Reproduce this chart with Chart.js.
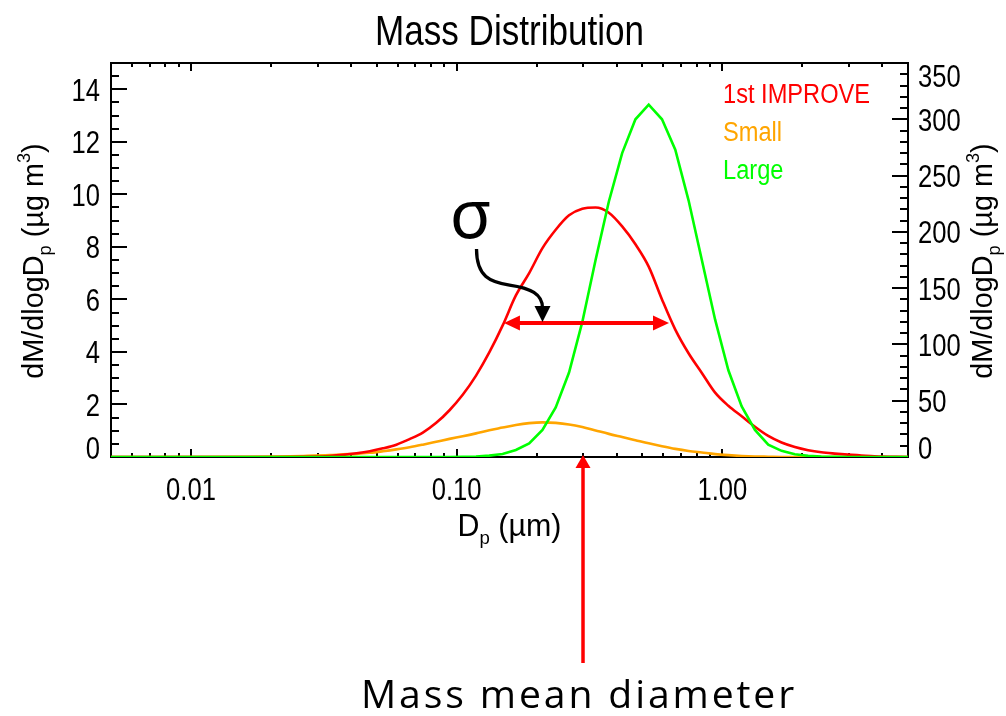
<!DOCTYPE html>
<html>
<head>
<meta charset="utf-8">
<title>Mass Distribution</title>
<script src="https://cdn.jsdelivr.net/npm/chart.js@4.4.1/dist/chart.umd.min.js"></script>
<style>
  html, body { margin: 0; padding: 0; background: #fff; }
  #wrap { width: 1006px; height: 716px; }
</style>
</head>
<body>
<div id="wrap"><canvas id="massChart" width="1006" height="716"></canvas></div>
<script>
// ─── Data ─────────────────────────────────────────────────────────────────────

// particle diameter Dp (µm), log-spaced
const diameters = [
  0.005, 0.0167, 0.021, 0.0265, 0.0333, 0.0374, 0.042, 0.0471, 0.0528, 0.0593,
  0.0665, 0.0746, 0.0838, 0.094, 0.1054, 0.1183, 0.1327, 0.1489, 0.1671, 0.1875,
  0.2104, 0.236, 0.2649, 0.2972, 0.3334, 0.3741, 0.4198, 0.471, 0.5284, 0.5929,
  0.6653, 0.7464, 0.8375, 0.9397, 1.054, 1.183, 1.327, 1.489, 1.671, 1.875,
  2.104, 2.36, 2.649, 2.972, 3.334, 3.741, 5.0,
];

// dM/dlogDp, left axis
const improveValues = [
  0, 0, 0, 0.01, 0.04, 0.08, 0.14, 0.22, 0.33, 0.47,
  0.68, 0.93, 1.3, 1.78, 2.37, 3.1, 3.98, 5.0, 6.15, 7.0,
  7.95, 8.65, 9.2, 9.45, 9.5, 9.3, 8.78, 8.1, 7.25, 6.0,
  4.85, 3.95, 3.2, 2.45, 1.95, 1.55, 1.15, 0.8, 0.55, 0.38,
  0.26, 0.18, 0.13, 0.09, 0.06, 0.03, 0,
];

// dM/dlogDp, left axis
const smallValues = [
  0, 0.01, 0.02, 0.04, 0.07, 0.1, 0.12, 0.16, 0.22, 0.29,
  0.37, 0.47, 0.58, 0.69, 0.79, 0.9, 1.02, 1.12, 1.22, 1.29,
  1.32, 1.3, 1.24, 1.14, 1.01, 0.88, 0.76, 0.64, 0.52, 0.41,
  0.31, 0.23, 0.17, 0.11, 0.07, 0.04, 0.02, 0.01, 0, 0,
  0, 0, 0, 0, 0, 0, 0,
];

// dM/dlogDp, right axis
const largeValues = [
  0, 0, 0, 0, 0, 0, 0, 0, 0, 0,
  0, 0, 0, 0, 0.2, 0.5, 1.2, 2.7, 6.2, 12,
  24, 44, 75, 120, 175, 227, 270, 300, 313, 300,
  273, 228, 175, 122, 77, 45, 24, 11, 5.5, 2.5,
  1, 0.4, 0.1, 0, 0, 0, 0,
];

const seriesNames  = ['1st IMPROVE', 'Small', 'Large'];
const seriesColors = ['#ff0000', '#ffa500', '#00ff00'];

const xMajorTicks = [0.01, 0.1, 1];
const xTickLabels = ['0.01', '0.10', '1.00'];
const leftTickLabels  = [0, 2, 4, 6, 8, 10, 12, 14];
const rightTickLabels = [0, 50, 100, 150, 200, 250, 300, 350];

// annotation anchors, in data units
const sigmaSpan    = { from: 0.1507, to: 0.630, y: 5.1 };
const sigmaLabel   = { x: 0.113, y: 8.34 };
const meanDiameter = 0.299;

// ─── Helpers ─────────────────────────────────────────────────────────────────

const FONT = "'Liberation Sans', Arial, sans-serif";

const xTickValues = [];
[0.001, 0.01, 0.1, 1].forEach(dec => {
  for (let m = 1; m <= 9; m++) {
    const v = +(dec * m).toPrecision(3);
    if (v >= 0.005 && v <= 5) xTickValues.push(v);
  }
});

const stepTicks = (max, step) => {
  const out = [];
  for (let v = 0; v <= max + 1e-9; v += step) out.push(+v.toFixed(3));
  return out;
};

// IDL's Helvetica is narrower than Liberation Sans, so squeeze horizontally
function drawText(ctx, text, x, y, { size, sx = 1, align = 'left', color = '#000', family = FONT, spacing = 0 }) {
  ctx.save();
  ctx.font = `${size}px ${family}`;
  ctx.fillStyle = color;
  ctx.textAlign = align;
  ctx.textBaseline = 'alphabetic';
  if (spacing) ctx.letterSpacing = `${spacing}px`;
  ctx.translate(x, y);
  ctx.scale(sx, 1);
  ctx.fillText(text, 0, 0);
  ctx.restore();
}

function drawRich(ctx, parts, x, y, size, sx, rotate) {
  ctx.save();
  ctx.translate(x, y);
  if (rotate) ctx.rotate(-Math.PI / 2);
  ctx.scale(sx, 1);
  const fontFor = p => `${(p.sub || p.sup) ? Math.round(size * 0.62) : size}px ${FONT}`;
  let total = 0;
  parts.forEach(p => { ctx.font = fontFor(p); total += ctx.measureText(p.t).width; });
  let cx = -total / 2;
  ctx.textAlign = 'left';
  ctx.textBaseline = 'alphabetic';
  ctx.fillStyle = '#000';
  parts.forEach(p => {
    ctx.font = fontFor(p);
    const dy = p.sub ? size * 0.27 : p.sup ? -size * 0.42 : 0;
    ctx.fillText(p.t, cx, dy);
    cx += ctx.measureText(p.t).width;
  });
  ctx.restore();
}

function arrowHead(ctx, tipX, tipY, dirX, dirY, len, half) {
  const bx = tipX - dirX * len, by = tipY - dirY * len;
  ctx.beginPath();
  ctx.moveTo(tipX, tipY);
  ctx.lineTo(bx - dirY * half, by + dirX * half);
  ctx.lineTo(bx + dirY * half, by - dirX * half);
  ctx.closePath();
  ctx.fill();
}

const yTitleParts = [
  { t: 'dM/dlogD' }, { t: 'p', sub: true }, { t: ' (\u00b5g m' }, { t: '3', sup: true }, { t: ')' },
];
const xTitleParts = [{ t: 'D' }, { t: 'p', sub: true }, { t: ' (\u00b5m)' }];

// ─── Plugin: IDL-style box, inward ticks, labels, annotations ───────────────

const idlFrame = {
  id: 'idlFrame',
  beforeDatasetsDraw(chart) {
    const { ctx, chartArea: a, scales: { x, y, y1 } } = chart;
    ctx.save();
    ctx.strokeStyle = '#000';
    ctx.lineWidth = 2;
    ctx.strokeRect(a.left, a.top, a.right - a.left, a.bottom - a.top);
    ctx.beginPath();
    x.ticks.forEach(t => {
      const px = Math.round(x.getPixelForValue(t.value));
      const len = xMajorTicks.includes(t.value) ? 8 : 4;
      ctx.moveTo(px, a.bottom); ctx.lineTo(px, a.bottom - len);
      ctx.moveTo(px, a.top);    ctx.lineTo(px, a.top + len);
    });
    y.ticks.forEach(t => {
      const py = Math.round(y.getPixelForValue(t.value));
      const len = t.value % 2 === 0 ? 16 : 8;
      ctx.moveTo(a.left, py); ctx.lineTo(a.left + len, py);
    });
    y1.ticks.forEach(t => {
      const py = Math.round(y1.getPixelForValue(t.value));
      const len = t.value % 50 === 0 ? 16 : 8;
      ctx.moveTo(a.right, py); ctx.lineTo(a.right - len, py);
    });
    ctx.stroke();
    ctx.restore();

    // tick labels; end labels are pulled inside the box like IDL does
    xMajorTicks.forEach((v, i) => {
      drawText(ctx, xTickLabels[i], x.getPixelForValue(v), a.bottom + 43, { size: 32, sx: 0.8, align: 'center' });
    });
    leftTickLabels.forEach(v => {
      let py = y.getPixelForValue(v) + 11.5;
      if (v === 0) py -= 10;
      drawText(ctx, String(v), a.left - 11, py, { size: 32, sx: 0.8, align: 'right' });
    });
    rightTickLabels.forEach(v => {
      let py = y1.getPixelForValue(v) + 11.5;
      if (v === 0) py -= 10;
      if (v === y1.max) py += 12;
      drawText(ctx, String(v), a.right + 10, py, { size: 32, sx: 0.8, align: 'left' });
    });
  },
  afterDraw(chart) {
    const { ctx, chartArea: a, scales: { x, y } } = chart;
    const midX = (a.left + a.right) / 2, midY = (a.top + a.bottom) / 2;

    drawText(ctx, 'Mass Distribution', midX, 45, { size: 42, sx: 0.835, align: 'center' });
    drawRich(ctx, yTitleParts, 43, midY + 1, 30, 0.96, true);
    drawRich(ctx, yTitleParts, 992, midY + 1, 30, 0.96, true);
    drawRich(ctx, xTitleParts, midX, 536, 31, 0.98, false);

    // legend as coloured text
    chart.data.datasets.forEach((ds, i) => {
      drawText(ctx, ds.label, a.right - 185, a.top + 40 + i * 38, { size: 27, sx: 0.875, color: ds.borderColor });
    });

    // sigma span (double arrow)
    ctx.save();
    ctx.fillStyle = ctx.strokeStyle = '#ff0000';
    const sy = y.getPixelForValue(sigmaSpan.y);
    const sx0 = x.getPixelForValue(sigmaSpan.from), sx1 = x.getPixelForValue(sigmaSpan.to);
    ctx.lineWidth = 4;
    ctx.beginPath();
    ctx.moveTo(sx0 + 10, sy); ctx.lineTo(sx1 - 10, sy);
    ctx.stroke();
    arrowHead(ctx, sx0, sy, -1, 0, 16, 7.5);
    arrowHead(ctx, sx1, sy, 1, 0, 16, 7.5);

    // mass mean diameter arrow
    const mx = x.getPixelForValue(meanDiameter);
    ctx.lineWidth = 3.5;
    ctx.beginPath();
    ctx.moveTo(mx, a.bottom + 206); ctx.lineTo(mx, a.bottom + 8);
    ctx.stroke();
    arrowHead(ctx, mx, a.bottom - 2, 0, -1, 13, 7.5);
    ctx.restore();

    // sigma label + curved black arrow
    ctx.save();
    ctx.fillStyle = ctx.strokeStyle = '#000';
    ctx.font = "68px 'Noto Sans', 'DejaVu Sans', sans-serif";
    ctx.textAlign = 'center';
    ctx.textBaseline = 'alphabetic';
    ctx.fillText('\u03c3', x.getPixelForValue(sigmaLabel.x), y.getPixelForValue(sigmaLabel.y));
    const tx = x.getPixelForValue(0.2105), ty = sy - 1;
    ctx.lineWidth = 3.3;
    ctx.beginPath();
    ctx.moveTo(tx - 66, ty - 73);
    ctx.bezierCurveTo(tx - 66, ty - 45, tx - 52, ty - 40, tx - 33, ty - 37);
    ctx.bezierCurveTo(tx - 12, ty - 34, tx, ty - 28, tx, ty - 14);
    ctx.stroke();
    arrowHead(ctx, tx, ty, 0, 1, 16, 8);
    ctx.restore();

    // caption
    drawText(ctx, 'Mass mean diameter', mx - 4, 708,
      { size: 38, sx: 1.03, spacing: 2.8, align: 'center', family: "'Open Sans', 'Noto Sans', sans-serif" });
  },
};

// ─── Chart ───────────────────────────────────────────────────────────────────

const toPoints = vals => diameters.map((d, i) => ({ x: d, y: vals[i] }));

const chart = new Chart(document.getElementById('massChart'), {
  type: 'line',
  data: {
    datasets: [
      { label: seriesNames[0], data: toPoints(improveValues), yAxisID: 'y',  order: 1, cubicInterpolationMode: 'monotone' },
      { label: seriesNames[1], data: toPoints(smallValues),   yAxisID: 'y',  order: 2, cubicInterpolationMode: 'monotone' },
      { label: seriesNames[2], data: toPoints(largeValues),   yAxisID: 'y1', order: 0 },
    ].map((ds, i) => ({
      ...ds,
      borderColor: seriesColors[i],
      backgroundColor: seriesColors[i],
      borderWidth: 2.6,
      pointRadius: 0,
      fill: false,
    })),
  },
  options: {
    responsive: false,
    animation: false,
    events: [],
    layout: { padding: { top: 63 } },
    plugins: {
      legend: { display: false },
      tooltip: { enabled: false },
    },
    scales: {
      x: {
        type: 'logarithmic',
        min: 0.005,
        max: 5,
        grid: { display: false, drawTicks: false },
        border: { display: false },
        ticks: { display: false },
        afterBuildTicks: s => { s.ticks = xTickValues.map(v => ({ value: v })); },
        afterFit: s => { s.height = 259; },
      },
      y: {
        type: 'linear',
        position: 'left',
        min: 0,
        max: 15,
        grid: { display: false, drawTicks: false },
        border: { display: false },
        ticks: { display: false },
        afterBuildTicks: s => { s.ticks = stepTicks(15, 0.5).map(v => ({ value: v })); },
        afterFit: s => { s.width = 111; },
      },
      y1: {
        type: 'linear',
        position: 'right',
        min: 0,
        max: 350,
        grid: { display: false, drawTicks: false },
        border: { display: false },
        ticks: { display: false },
        afterBuildTicks: s => { s.ticks = stepTicks(350, 10).map(v => ({ value: v })); },
        afterFit: s => { s.width = 98; },
      },
    },
  },
  plugins: [idlFrame],
});
</script>
</body>
</html>
